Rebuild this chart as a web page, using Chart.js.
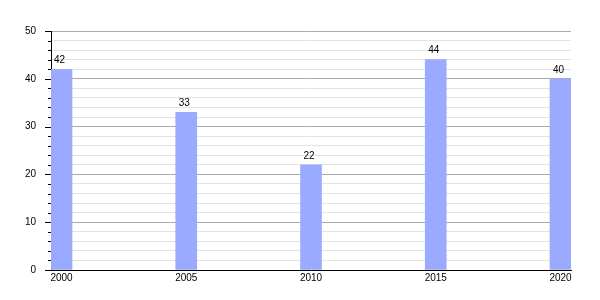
<!DOCTYPE html>
<html><head><meta charset="utf-8">
<script src="https://cdn.jsdelivr.net/npm/chart.js@4/dist/chart.umd.min.js"></script>
<style>html,body{margin:0;padding:0;background:#fff}#wrap{width:600px;height:300px}</style>
</head><body><div id="wrap"><canvas id="c" width="600" height="300"></canvas></div>
<script>
const years = [2000, 2005, 2010, 2015, 2020];
const values = [42, 33, 22, 44, 40];
const yTicks = [0, 10, 20, 30, 40, 50];

const BAR_PX = 21, PLOT_PX = 520;
const span = years[years.length - 1] - years[0];
const half = (BAR_PX / 2) * span / (PLOT_PX - BAR_PX);

const valueLabels = {
  id: 'valueLabels',
  afterDatasetsDraw(chart) {
    const ctx = chart.ctx;
    const meta = chart.getDatasetMeta(0);
    ctx.save();
    ctx.font = '10px "Liberation Sans", Arial, sans-serif';
    ctx.fillStyle = '#000';
    ctx.textAlign = 'center';
    ctx.textBaseline = 'bottom';
    meta.data.forEach((bar, i) => {
      ctx.fillText(String(values[i]), bar.x - 2, bar.y - 4);
    });
    ctx.restore();
  }
};

const minorTicks = {
  id: 'minorTicks',
  afterDraw(chart) {
    const y = chart.scales.y, ctx = chart.ctx;
    const left = chart.chartArea.left;
    ctx.save();
    ctx.strokeStyle = '#000';
    ctx.lineWidth = 1;
    y.ticks.forEach(t => {
      const py = Math.round(y.getPixelForValue(t.value)) + 0.5;
      const len = (t.value % 10 === 0) ? 6 : 3;
      ctx.beginPath();
      ctx.moveTo(left - len, py);
      ctx.lineTo(left, py);
      ctx.stroke();
    });
    ctx.restore();
  }
};

new Chart(document.getElementById('c'), {
  type: 'bar',
  data: {
    datasets: [{
      data: years.map((yr, i) => ({ x: yr + half, y: values[i] })),
      backgroundColor: '#99aaff',
      borderWidth: 0,
      barThickness: BAR_PX
    }]
  },
  options: {
    responsive: false,
    animation: false,
    layout: { padding: { left: 0, right: 29, top: 31, bottom: 0 } },
    plugins: { legend: { display: false }, tooltip: { enabled: false } },
    scales: {
      x: {
        type: 'linear',
        offset: false,
        min: years[0],
        max: years[years.length - 1] + 2 * half,
        afterBuildTicks: s => { s.ticks = years.map(yr => ({ value: yr + half })); },
        afterFit: s => { s.height = 30; },
        grid: { display: false, drawTicks: false },
        border: { display: true, color: '#000', width: 1 },
        ticks: {
          autoSkip: false, maxRotation: 0, padding: 2,
          color: '#000',
          font: { family: '"Liberation Sans", Arial, sans-serif', size: 10 },
          callback: v => String(Math.round(v - half))
        }
      },
      y: {
        min: yTicks[0],
        max: yTicks[yTicks.length - 1],
        afterFit: s => { s.width = 51; },
        ticks: {
          stepSize: 2, autoSkip: false, padding: 15, color: '#000',
          font: { family: '"Liberation Sans", Arial, sans-serif', size: 10 },
          callback: v => (yTicks.includes(v) ? String(v) : '')
        },
        grid: {
          drawTicks: false,
          color: c => (c.tick && c.tick.value % 10 === 0) ? '#aaaaaa' : '#e3e3e3',
          lineWidth: 1
        },
        border: { display: true, color: '#000', width: 1 }
      }
    }
  },
  plugins: [valueLabels, minorTicks]
});
</script></body></html>
